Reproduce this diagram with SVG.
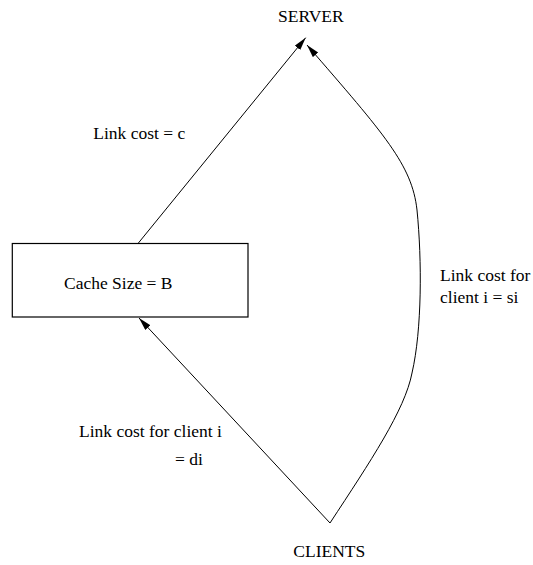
<svg xmlns="http://www.w3.org/2000/svg" width="533" height="565" viewBox="0 0 533 565">
<style>
.edge { fill: none; stroke: #000; stroke-width: 1; }
.box { fill: #fff; stroke: #000; stroke-width: 1.2; }
</style>
<defs>
<marker id="arr" markerUnits="userSpaceOnUse" markerWidth="14" markerHeight="8" refX="13" refY="3.5" orient="auto">
<path d="M0,0 L13,3.5 L0,7 z" fill="#000"/>
</marker>
</defs>
<rect width="533" height="565" fill="#fff"/>
<g font-family="Liberation Serif, Times New Roman, DejaVu Serif, serif" font-size="17.5" fill="#000">
<g id="server"><text x="278" y="21.7">SERVER</text></g>
<g id="cache">
<rect class="box" x="12.3" y="243.5" width="235.7" height="73.5"/>
<text x="64" y="289">Cache Size = B</text>
</g>
<g id="clients"><text x="293.3" y="556.7">CLIENTS</text></g>
<g id="labels">
<text x="93.3" y="139.3">Link cost = c</text>
<text x="440" y="281">Link cost for</text>
<text x="440" y="303">client i = si</text>
<text x="79" y="436.7">Link cost for client i</text>
<text x="175" y="465">= di</text>
</g>
</g>
<g id="connectors">
<line class="edge" x1="138" y1="243.5" x2="305.7" y2="37.7" marker-end="url(#arr)"/>
<line class="edge" x1="330" y1="523" x2="139" y2="318" marker-end="url(#arr)"/>
<path class="edge" d="M330,523 C370,462 405,410 412,373 C422,330 422,260 417,210 C412,165 385,135 307,45" marker-end="url(#arr)"/>
</g>
</svg>
